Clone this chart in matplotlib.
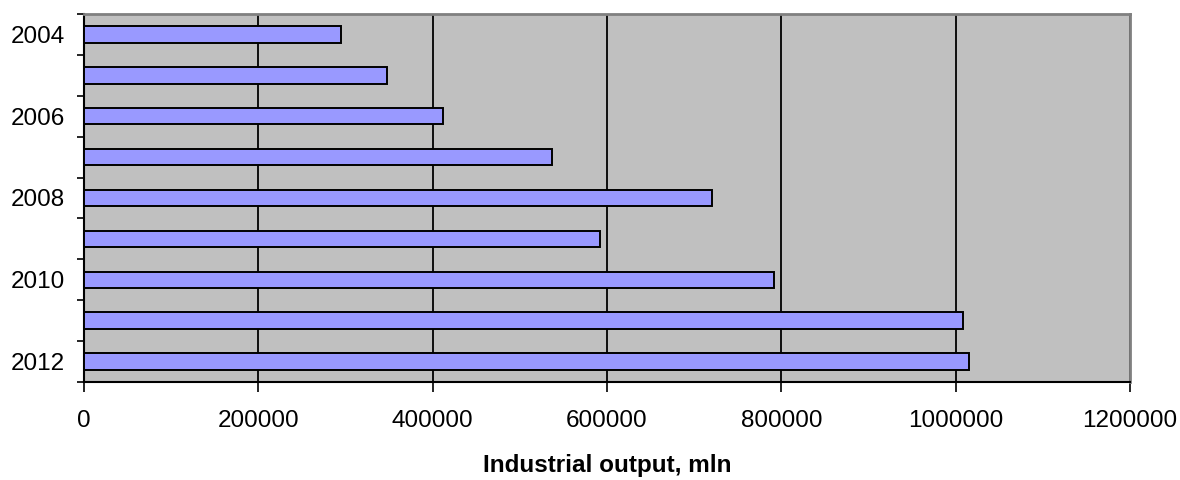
import matplotlib.pyplot as plt
import numpy as np

years = ['2004', '2005', '2006', '2007', '2008', '2009', '2010', '2011', '2012']
output = [295000, 348000, 412000, 537000, 720000, 592000, 792000, 1008000, 1015000]
xticks = [0, 200000, 400000, 600000, 800000, 1000000, 1200000]

plt.rcParams['font.family'] = ['Liberation Sans', 'DejaVu Sans']

fig = plt.figure(figsize=(11.8, 4.8), dpi=100)
ax = fig.add_axes([84/1180, 98/480, 1046/1180, 368/480])
ax.set_facecolor('#C0C0C0')

pos = np.arange(len(years))
ax.barh(pos, output, height=0.4, color='#9999FF', edgecolor='black', linewidth=1.4, zorder=3)

ax.set_xlim(0, 1200000)
ax.set_ylim(len(years) - 0.5, -0.5)

# x axis
ax.set_xticks(xticks)
ax.set_xticklabels([str(v) for v in xticks], fontsize=17.5)
ax.tick_params(axis='x', length=7, width=1.2, pad=13, color='black')
ax.grid(axis='x', color='black', linewidth=1.3, zorder=1)
ax.set_xlabel('Industrial output, mln', fontsize=17.5, fontweight='bold', labelpad=16)

# y axis: ticks on category boundaries, labels every other year
ax.set_yticks(np.arange(len(years) + 1) - 0.5)
ax.set_yticklabels([])
ax.tick_params(axis='y', which='major', length=5, width=1.2)
ax.set_yticks(pos[::2], minor=True)
ax.set_yticklabels(years[::2], minor=True, fontsize=17.5)
ax.tick_params(axis='y', which='minor', length=0, pad=14)

for s in ['left', 'bottom']:
    ax.spines[s].set_color('black')
    ax.spines[s].set_linewidth(1.5)
for s in ['top', 'right']:
    ax.spines[s].set_color('#808080')
    ax.spines[s].set_linewidth(2)

fig.savefig('out.png', dpi=100)
